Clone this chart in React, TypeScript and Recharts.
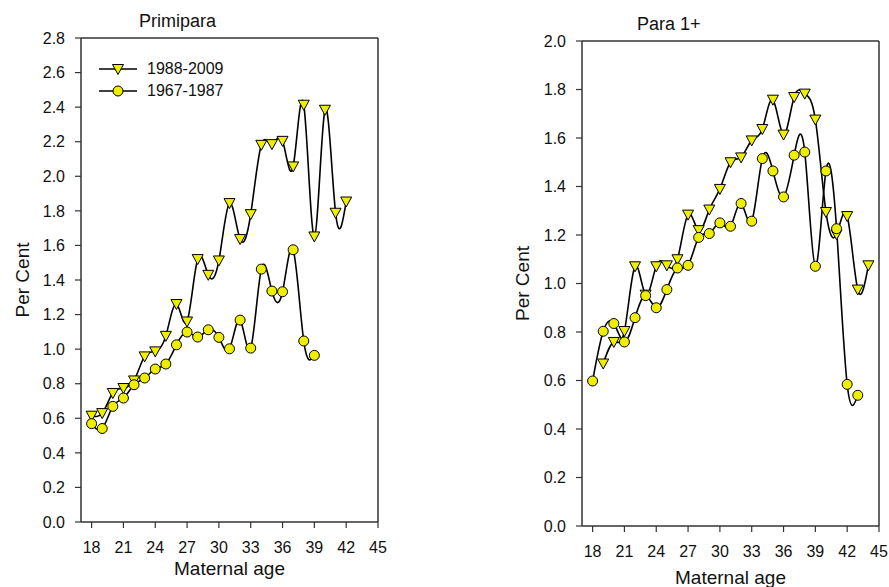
import { LineChart, Line, XAxis, YAxis, ReferenceLine, Legend } from 'recharts';

// maternal age ticks shared by both panels
const ageTicks = [18, 21, 24, 27, 30, 33, 36, 39, 42, 45];

// Primipara panel
const primiYTicks = [0, 0.2, 0.4, 0.6, 0.8, 1.0, 1.2, 1.4, 1.6, 1.8, 2.0, 2.2, 2.4, 2.6, 2.8];
const primiRecentAges = [18, 19, 20, 21, 22, 23, 24, 25, 26, 27, 28, 29, 30, 31, 32, 33, 34, 35, 36, 37, 38, 39, 40, 41, 42];
const primiRecent = [0.615, 0.63, 0.746, 0.775, 0.819, 0.958, 0.987, 1.077, 1.261, 1.16, 1.521, 1.43, 1.513, 1.845, 1.637, 1.781, 2.182, 2.186, 2.205, 2.057, 2.414, 1.652, 2.385, 1.789, 1.854];
const primiEarlierAges = [18, 19, 20, 21, 22, 23, 24, 25, 26, 27, 28, 29, 30, 31, 32, 33, 34, 35, 36, 37, 38, 39];
const primiEarlier = [0.569, 0.541, 0.669, 0.717, 0.794, 0.833, 0.885, 0.914, 1.025, 1.099, 1.07, 1.112, 1.068, 1.002, 1.168, 1.006, 1.463, 1.336, 1.332, 1.575, 1.047, 0.964];

// Para 1+ panel
const paraYTicks = [0, 0.2, 0.4, 0.6, 0.8, 1.0, 1.2, 1.4, 1.6, 1.8, 2.0];
const paraRecentAges = [19, 20, 21, 22, 23, 24, 25, 26, 27, 28, 29, 30, 31, 32, 33, 34, 35, 36, 37, 38, 39, 40, 41, 42, 43, 44];
const paraRecent = [0.67, 0.759, 0.804, 1.071, 0.954, 1.071, 1.075, 1.1, 1.284, 1.22, 1.305, 1.39, 1.5, 1.52, 1.59, 1.637, 1.758, 1.614, 1.769, 1.783, 1.676, 1.295, 1.203, 1.278, 0.975, 1.075];
const paraEarlierAges = [18, 19, 20, 21, 22, 23, 24, 25, 26, 27, 28, 29, 30, 31, 32, 33, 34, 35, 36, 37, 38, 39, 40, 41, 42, 43];
const paraEarlier = [0.598, 0.803, 0.835, 0.759, 0.859, 0.95, 0.9, 0.975, 1.064, 1.075, 1.19, 1.206, 1.25, 1.236, 1.33, 1.257, 1.515, 1.464, 1.357, 1.529, 1.542, 1.071, 1.464, 1.226, 0.584, 0.539];

const recentName = '1988-2009';
const earlierName = '1967-1987';
const legendOrder = [recentName, earlierName];

const FONT = 'Arial, "Liberation Sans", sans-serif';
const AXIS = '#333';
const YELLOW = '#eeee00';

type Row = { age: number; recent?: number; earlier?: number };

const buildRows = (ra: number[], rv: number[], ea: number[], ev: number[]): Row[] => {
  const ages = Array.from(new Set([...ra, ...ea])).sort((a, b) => a - b);
  return ages.map((age) => {
    const i = ra.indexOf(age);
    const j = ea.indexOf(age);
    return {
      age,
      recent: i >= 0 ? rv[i] : undefined,
      earlier: j >= 0 ? ev[j] : undefined,
    };
  });
};

const primiRows = buildRows(primiRecentAges, primiRecent, primiEarlierAges, primiEarlier);
const paraRows = buildRows(paraRecentAges, paraRecent, paraEarlierAges, paraEarlier);

// downward triangle marker
const TriangleDot = (props: any) => {
  const { cx, cy, index } = props;
  if (cx == null || cy == null) return <g key={`t-${index}`} />;
  return (
    <path
      key={`t-${index}`}
      d={`M${cx - 5.5},${cy - 4.5} L${cx + 5.5},${cy - 4.5} L${cx},${cy + 5.5} Z`}
      fill={YELLOW}
      stroke="#000"
      strokeWidth={1}
    />
  );
};

const circleDot = { r: 5, fill: YELLOW, stroke: '#000', strokeWidth: 1 };

const renderLegend = ({ payload }: any) => {
  const items = [...(payload || [])].sort(
    (a: any, b: any) => legendOrder.indexOf(a.value) - legendOrder.indexOf(b.value)
  );
  return (
    <div style={{ fontFamily: FONT, fontSize: 16, color: '#111' }}>
      {items.map((item: any) => (
        <div key={item.value} style={{ display: 'flex', alignItems: 'center', height: 22 }}>
          <svg width={38} height={22}>
            <line x1={0} y1={11} x2={38} y2={11} stroke="#000" strokeWidth={1.5} />
            {item.value === recentName ? (
              <path d="M13.5,6.5 L24.5,6.5 L19,16.5 Z" fill={YELLOW} stroke="#000" strokeWidth={1} />
            ) : (
              <circle cx={19} cy={11} r={5} fill={YELLOW} stroke="#000" strokeWidth={1} />
            )}
          </svg>
          <span style={{ marginLeft: 10 }}>{item.value}</span>
        </div>
      ))}
    </div>
  );
};

type PanelProps = {
  rows: Row[];
  yMax: number;
  yTicks: number[];
  width: number;
  yAxisWidth: number;
  margin: { top: number; right: number; bottom: number; left: number };
  yLabelDx: number;
  xLabelDy: number;
  showLegend?: boolean;
};

const Panel = ({ rows, yMax, yTicks, width, yAxisWidth, margin, yLabelDx, xLabelDy, showLegend }: PanelProps) => (
  <LineChart width={width} height={587} data={rows} margin={margin} style={{ fontFamily: FONT }}>
    <XAxis
      type="number"
      dataKey="age"
      domain={[17, 45]}
      ticks={ageTicks}
      height={40}
      tickSize={6}
      tickMargin={14}
      axisLine={{ stroke: AXIS, strokeWidth: 1.5 }}
      tickLine={{ stroke: AXIS, strokeWidth: 1.2 }}
      tick={{ fill: '#111', fontSize: 16 }}
      label={{ value: 'Maternal age', position: 'center', dy: xLabelDy, fontSize: 19, fill: '#111' }}
    />
    <YAxis
      type="number"
      domain={[0, yMax]}
      ticks={yTicks}
      width={yAxisWidth}
      tickSize={6}
      tickMargin={10}
      tickFormatter={(v: number) => v.toFixed(1)}
      axisLine={{ stroke: AXIS, strokeWidth: 1.5 }}
      tickLine={{ stroke: AXIS, strokeWidth: 1.2 }}
      tick={{ fill: '#111', fontSize: 16 }}
      label={{ value: 'Per Cent', angle: -90, position: 'center', dx: yLabelDx, fontSize: 19, fill: '#111' }}
    />
    <ReferenceLine y={yMax} stroke={AXIS} strokeWidth={1.5} />
    <ReferenceLine x={45} stroke={AXIS} strokeWidth={1.5} />
    {showLegend && (
      <Legend
        layout="vertical"
        align="center"
        verticalAlign="middle"
        content={renderLegend}
        wrapperStyle={{ left: 99, top: 58, width: 140 }}
      />
    )}
    <Line
      name={recentName}
      dataKey="recent"
      type="natural"
      stroke="#000"
      strokeWidth={1.6}
      dot={TriangleDot}
      activeDot={false}
      isAnimationActive={false}
    />
    <Line
      name={earlierName}
      dataKey="earlier"
      type="natural"
      stroke="#000"
      strokeWidth={1.6}
      dot={circleDot}
      activeDot={false}
      isAnimationActive={false}
    />
  </LineChart>
);

const titleStyle = {
  position: 'absolute' as const,
  fontFamily: FONT,
  fontSize: 18,
  lineHeight: '20px',
  color: '#111',
  whiteSpace: 'nowrap' as const,
};

export default function App() {
  return (
    <div style={{ position: 'absolute', left: 0, top: 0, width: 889, height: 587, background: '#fff', overflow: 'hidden' }}>
      <div style={{ position: 'absolute', left: 0, top: 0 }}>
        <Panel
          rows={primiRows}
          yMax={2.8}
          yTicks={primiYTicks}
          width={400}
          yAxisWidth={81}
          margin={{ top: 38, right: 22, bottom: 25, left: 0 }}
          yLabelDx={-18.5}
          xLabelDy={26}
          showLegend
        />
      </div>
      <div style={{ position: 'absolute', left: 500, top: 0 }}>
        <Panel
          rows={paraRows}
          yMax={2.0}
          yTicks={paraYTicks}
          width={389}
          yAxisWidth={82}
          margin={{ top: 41, right: 10, bottom: 21, left: 0 }}
          yLabelDx={-19}
          xLabelDy={31}
        />
      </div>
      <div style={{ ...titleStyle, left: 139, top: 11 }}>Primipara</div>
      <div style={{ ...titleStyle, left: 637, top: 14 }}>Para 1+</div>
    </div>
  );
}
